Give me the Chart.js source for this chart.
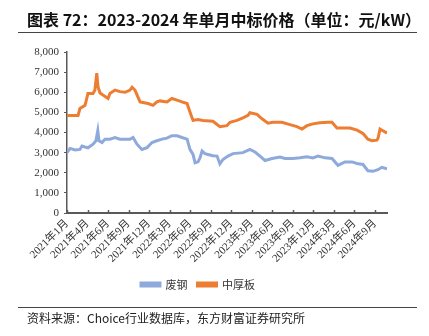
<!DOCTYPE html>
<html><head><meta charset="utf-8">
<script src="https://cdn.jsdelivr.net/npm/chart.js@4"></script>
<style>
html,body{margin:0;padding:0;background:#fff;width:429px;height:336px;overflow:hidden;}
#wrap{position:relative;width:429px;height:336px;}
#title{position:absolute;left:27px;top:7px;font:bold 16px "Noto Sans CJK SC",sans-serif;color:#111;white-space:nowrap;letter-spacing:0px;}
#rule1{position:absolute;left:18px;top:32px;width:399px;height:1px;background:#444;}
#rule2{position:absolute;left:18px;top:307px;width:399px;height:1px;background:#444;}
#source{position:absolute;left:27px;top:309px;font:12px "Noto Sans CJK SC",sans-serif;color:#222;white-space:nowrap;}
canvas{position:absolute;left:0;top:0;}
</style></head>
<body><div id="wrap">
<canvas id="c" width="429" height="336"></canvas>
<div id="title">图表 72：2023-2024 年单月中标价格（单位：元/kW）</div>
<div id="rule1"></div>
<div id="rule2"></div>
<div id="source">资料来源：Choice行业数据库，东方财富证券研究所</div>
</div>
<script>
const tickLabels = ["2021年1月","2021年4月","2021年6月","2021年9月","2021年12月","2022年3月","2022年6月","2022年9月","2022年12月","2023年3月","2023年6月","2023年9月","2023年12月","2024年3月","2024年6月","2024年9月"];
const seriesNames = ["废钢","中厚板"];
// positions along the time axis (1 unit = one labelled tick interval)
const scrapX = [0,0.15,0.39,0.63,0.73,0.88,1.02,1.27,1.41,1.50,1.56,1.71,1.85,2.09,2.34,2.58,2.83,3.07,3.22,3.41,3.65,3.90,4.14,4.38,4.63,4.87,5.11,5.36,5.60,5.85,5.99,6.14,6.24,6.38,6.48,6.58,6.72,6.87,7.11,7.31,7.45,7.60,7.84,8.09,8.57,8.91,9.16,9.40,9.65,9.99,10.38,10.62,11.01,11.35,11.69,11.98,12.23,12.57,12.91,13.20,13.54,13.88,14.13,14.42,14.66,14.91,15.15,15.34,15.59];
const scrapY = [3000,3210,3130,3160,3330,3280,3240,3420,3590,4090,3590,3500,3670,3670,3750,3670,3670,3670,3750,3420,3160,3250,3500,3590,3670,3720,3840,3840,3750,3670,3160,2910,2490,2540,2740,3080,2950,2910,2850,2830,2440,2660,2830,2950,3000,3160,3030,2830,2610,2710,2780,2710,2710,2740,2790,2740,2830,2740,2710,2370,2540,2540,2460,2410,2100,2070,2150,2270,2190];
const plateX = [0,0.24,0.54,0.63,0.88,1.02,1.27,1.36,1.45,1.51,1.61,1.75,2.00,2.09,2.34,2.58,2.83,3.07,3.17,3.31,3.56,3.70,3.95,4.19,4.38,4.53,4.87,5.11,5.36,5.60,5.85,5.99,6.14,6.38,6.62,7.11,7.45,7.79,7.94,8.28,8.57,8.82,8.91,9.26,9.50,9.79,10.03,10.47,10.86,11.20,11.45,11.69,11.98,12.32,12.71,12.91,13.15,13.44,13.79,14.13,14.42,14.66,14.86,15.10,15.15,15.25,15.39,15.59];
const plateY = [4850,4850,4850,5190,5350,5940,5940,6110,6950,6280,5960,5860,5690,5940,6110,6030,6000,6110,6250,6110,5520,5490,5440,5350,5520,5570,5520,5690,5610,5520,5440,5020,4600,4640,4600,4560,4290,4340,4510,4600,4730,4850,4980,4900,4680,4460,4510,4510,4390,4290,4170,4340,4430,4480,4510,4510,4225,4225,4225,4120,3950,3670,3590,3620,3700,4170,4090,3970];
const yTicks = [0,1000,2000,3000,4000,5000,6000,7000,8000];

const pts = (xs, ys) => xs.map((x, i) => ({x: x, y: ys[i]}));

const innerTicks = {
  id: 'innerTicks',
  afterDatasetsDraw(chart) {
    const s = chart.scales.x, ctx = chart.ctx;
    ctx.save();
    ctx.strokeStyle = '#595959';
    ctx.lineWidth = 1.5;
    tickLabels.forEach((_, i) => {
      const px = Math.round(s.getPixelForValue(i)) + 0.5;
      ctx.beginPath();
      ctx.moveTo(px, s.top);
      ctx.lineTo(px, s.top - 3);
      ctx.stroke();
    });
    ctx.restore();
  }
};

new Chart(document.getElementById('c'), {
  type: 'line',
  data: {
    datasets: [
      {label: seriesNames[0], data: pts(scrapX, scrapY), borderColor: '#8EA9DB', backgroundColor: '#8EA9DB', borderWidth: 3, pointRadius: 0, tension: 0},
      {label: seriesNames[1], data: pts(plateX, plateY), borderColor: '#ED7D31', backgroundColor: '#ED7D31', borderWidth: 3, pointRadius: 0, tension: 0}
    ]
  },
  options: {
    responsive: false,
    animation: false,
    layout: {padding: {top: 52, left: 9, right: 42, bottom: 36}},
    plugins: {
      legend: {
        position: 'bottom',
        labels: {boxWidth: 19, boxHeight: 3, padding: 10, color: '#333', font: {family: '"Noto Sans CJK SC", sans-serif', size: 11}}
      },
      tooltip: {enabled: false}
    },
    scales: {
      x: {
        type: 'linear', min: 0, max: 15.59,
        afterBuildTicks: (s) => { s.ticks = tickLabels.map((_, i) => ({value: i})); },
        afterFit: (s) => { s.height = 56; },
        grid: {display: false, drawTicks: false},
        border: {display: true, color: '#595959', width: 2},
        ticks: {
          autoSkip: false, minRotation: 45, maxRotation: 45, padding: 4, color: '#333',
          font: {family: '"Liberation Serif", "Noto Sans CJK SC", serif', size: 11},
          callback: (v) => tickLabels[Math.round(v)] ?? ''
        }
      },
      y: {
        min: 0, max: 8000,
        afterBuildTicks: (s) => { s.ticks = yTicks.map(v => ({value: v})); },
        afterFit: (s) => { s.width = 58; },
        grid: {display: true, drawOnChartArea: false, drawTicks: true, tickLength: 3, color: '#595959'},
        border: {display: true, color: '#595959', width: 1.5},
        ticks: {
          padding: 5, color: '#333',
          font: {family: '"Liberation Serif", serif', size: 11},
          callback: (v) => v.toLocaleString('en-US')
        }
      }
    }
  },
  plugins: [innerTicks]
});
</script>
</body></html>
